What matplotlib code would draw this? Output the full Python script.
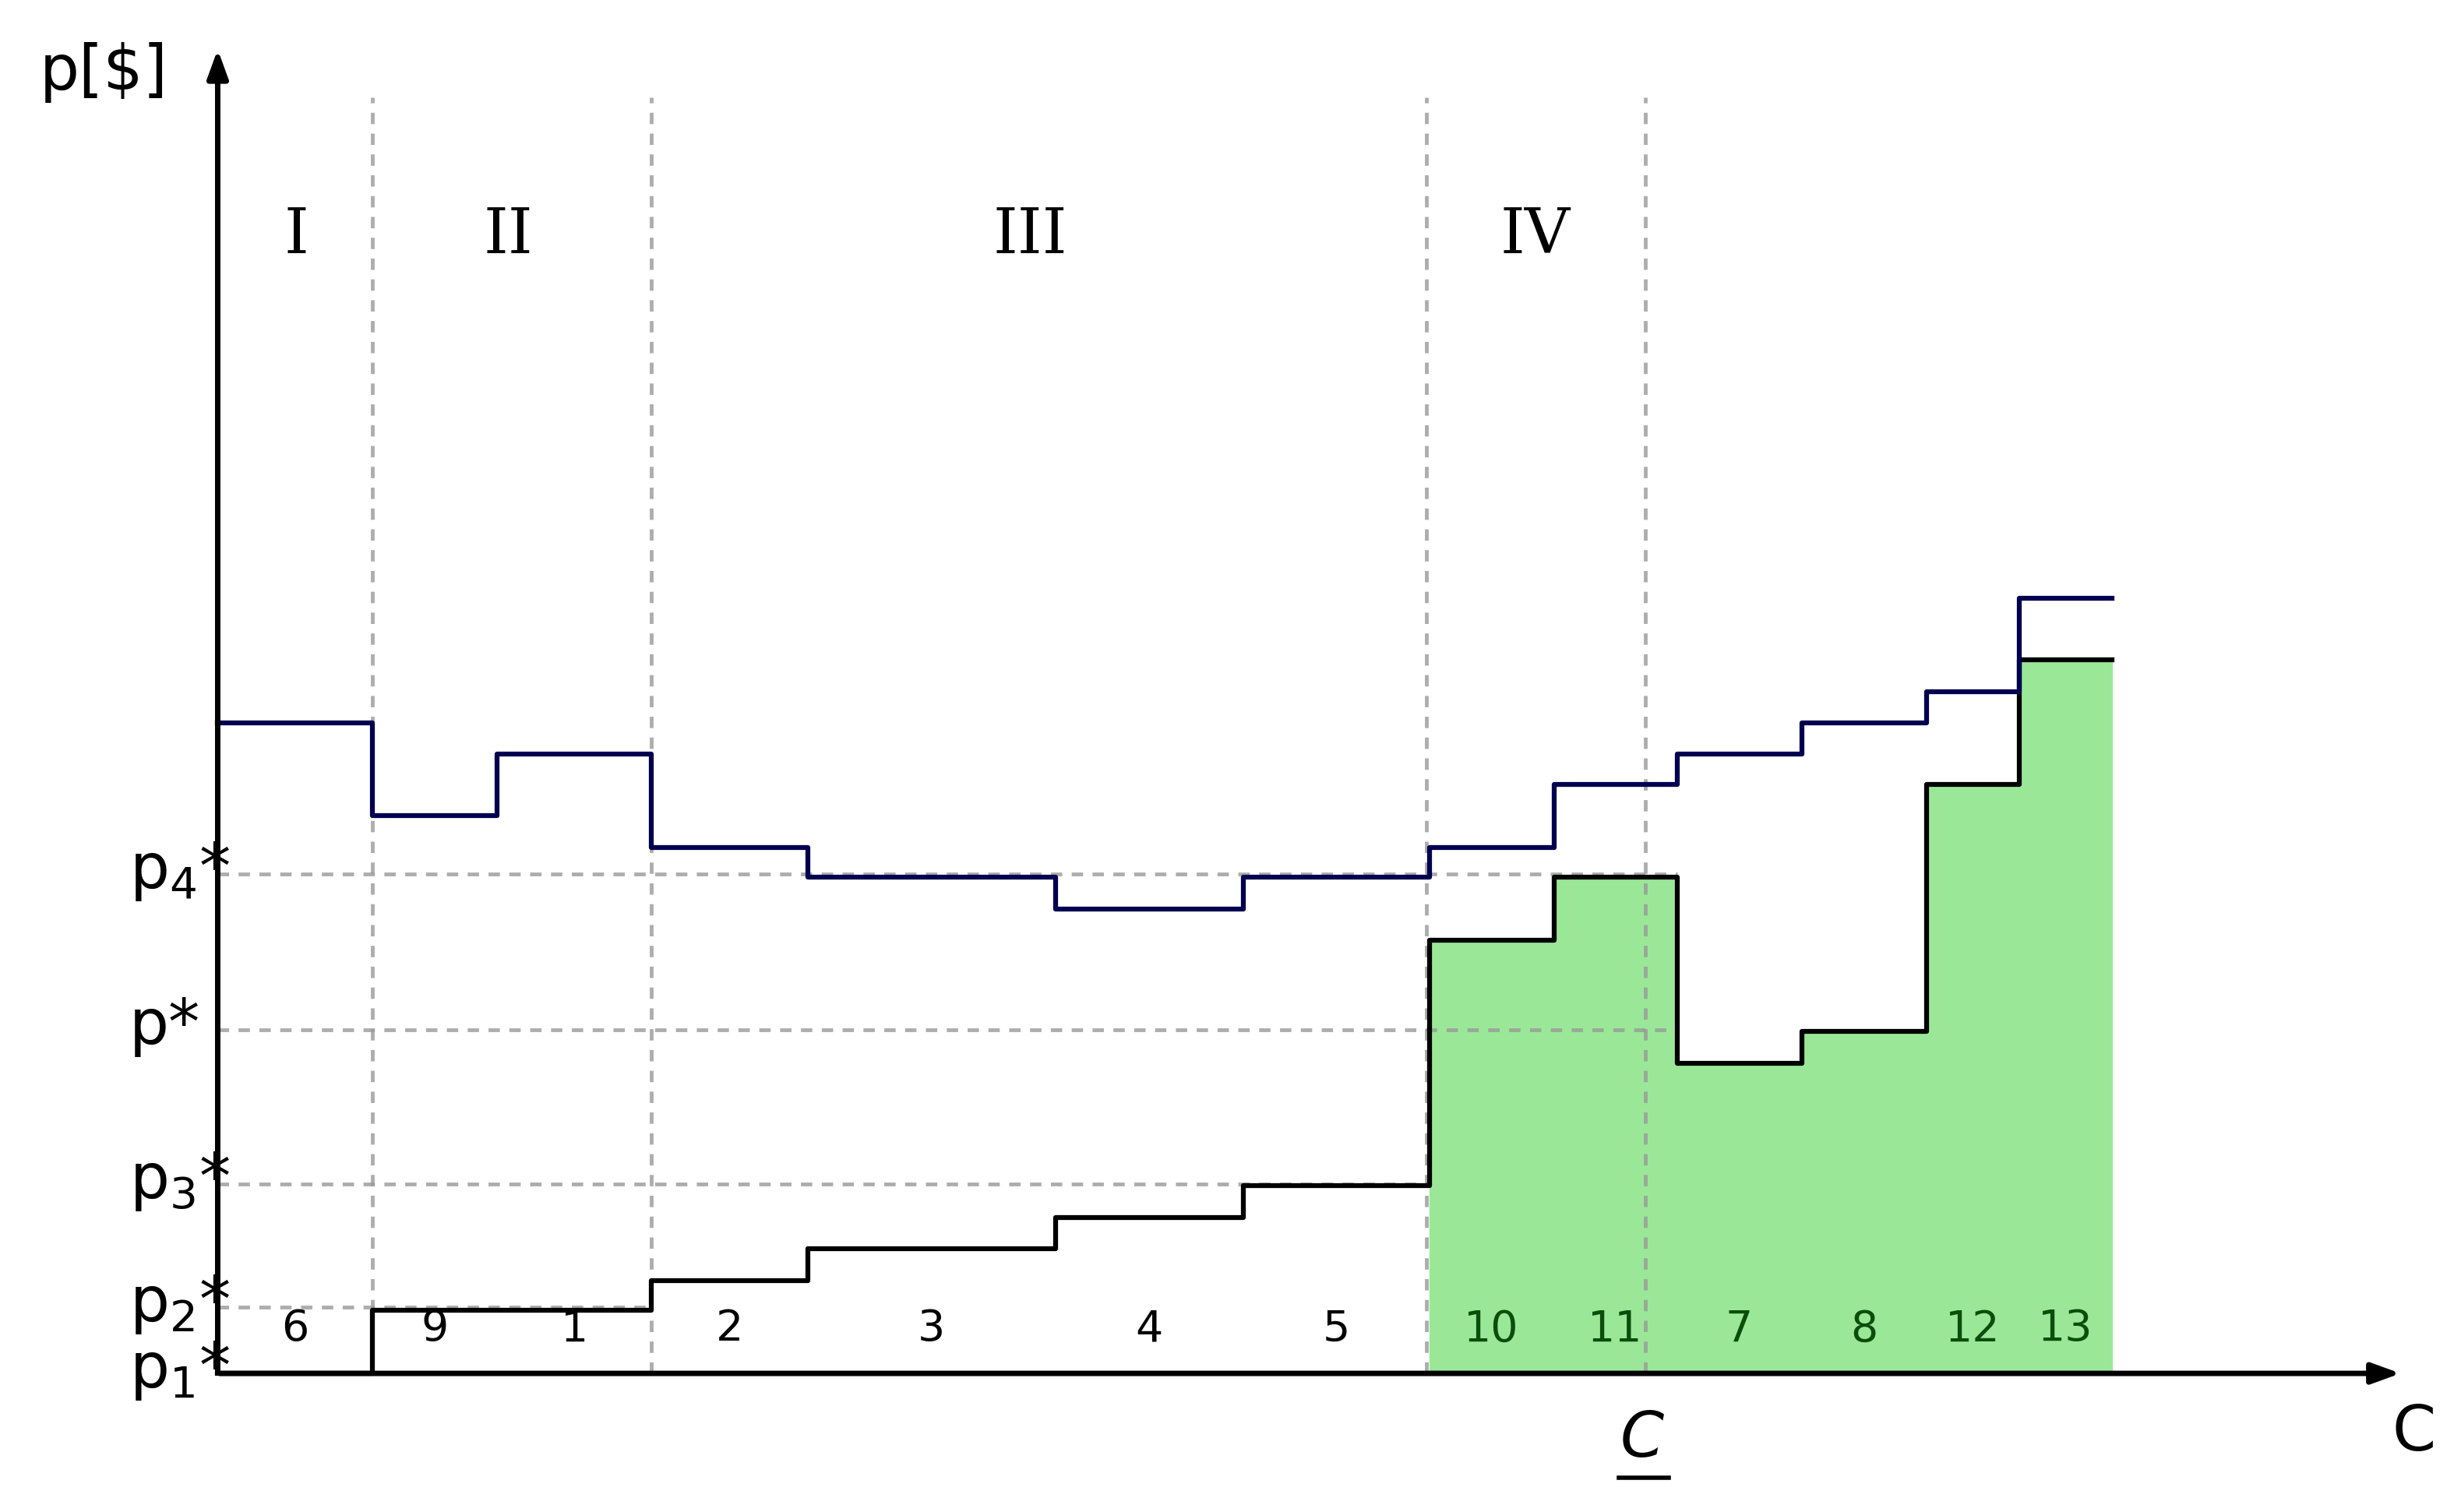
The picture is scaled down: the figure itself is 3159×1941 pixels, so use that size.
import matplotlib
matplotlib.use("Agg")
import matplotlib.pyplot as plt
import numpy as np

plt.rcParams["font.family"] = ["DejaVu Sans"]
plt.rcParams["mathtext.default"] = "regular"

# segment order, widths and the two price levels
labels = ["6", "9", "1", "2", "3", "4", "5", "10", "11", "7", "8", "12", "13"]
widths = [98, 79, 98, 99, 157, 119, 118, 79, 78, 79, 79, 59, 59]
lower = [0, 40, 40, 59, 79, 99, 119, 275, 315, 197, 217, 374, 453]
upper = [413, 354, 393, 334, 315, 295, 315, 334, 374, 393, 413, 433, 492]
n_white = 7  # first segments not filled

p_levels = {"p$_4$*": 317, "p*": 218, "p$_3$*": 120, "p$_2$*": 42, "p$_1$*": 0}
p_extent = {"p$_4$*": 925, "p*": 925, "p$_3$*": 768, "p$_2$*": 275, "p$_1$*": 0}
v_lines = [98, 275, 766, 905]
regions = [("I", 50), ("II", 184), ("III", 515), ("IV", 835)]

edges = np.concatenate([[0], np.cumsum(widths)])

fig = plt.figure(figsize=(31.59, 19.41), dpi=100)
ax = fig.add_axes([0, 0, 1, 1])
ax.set_xlim(-138, 1560 - 138)
ax.set_ylim(-88, 872)
ax.axis("off")

# green fill
xs = edges[n_white:]
ys = lower[n_white:] + [lower[-1]]
ax.fill_between(xs, ys, 0, step="post", color="#9ae897", zorder=1)

# dashed guides
for name, v in p_levels.items():
    if p_extent[name] > 0:
        ax.plot([0, p_extent[name]], [v, v], color="#999999", alpha=0.8, lw=3.5, dashes=(3, 2.5), zorder=2)
for v in v_lines:
    ax.plot([v, v], [0, 810], color="#999999", alpha=0.8, lw=3.5, dashes=(3, 2.5), zorder=2)

# step lines
ax.step(edges, lower + [lower[-1]], where="post", color="black", lw=4.5, zorder=3)
ax.step(edges, upper + [upper[-1]], where="post", color="#000050", lw=4.5, zorder=3)

# axes arrows
ax.annotate("", xy=(1385, 0), xytext=(0, 0),
            arrowprops=dict(arrowstyle="-|>,head_length=2.2,head_width=0.8", lw=5, color="black"), zorder=4)
ax.annotate("", xy=(0, 842), xytext=(0, 0),
            arrowprops=dict(arrowstyle="-|>,head_length=2.2,head_width=0.8", lw=5, color="black"), zorder=4)

# text
for name, x in regions:
    ax.text(x, 722, name, family="DejaVu Serif", fontsize=58, ha="center", va="center")
for i, lab in enumerate(labels):
    c = "#0b4d0b" if i >= n_white else "black"
    ax.text((edges[i] + edges[i + 1]) / 2, 28, lab, fontsize=40, ha="center", va="center", color=c, zorder=5)
for name, v in p_levels.items():
    ax.text(-56, v + 2, name, fontsize=58, ha="left", va="center")
ax.text(-113, 826, r"p[\$]", fontsize=58, ha="left", va="center")
ax.text(1392, -38, "C", fontsize=58, ha="center", va="center")
ax.text(903, -42, "C", fontsize=58, style="italic", ha="center", va="center")
ax.plot([888, 920], [-66, -66], color="black", lw=4)

fig.savefig("out.png", dpi=100)
